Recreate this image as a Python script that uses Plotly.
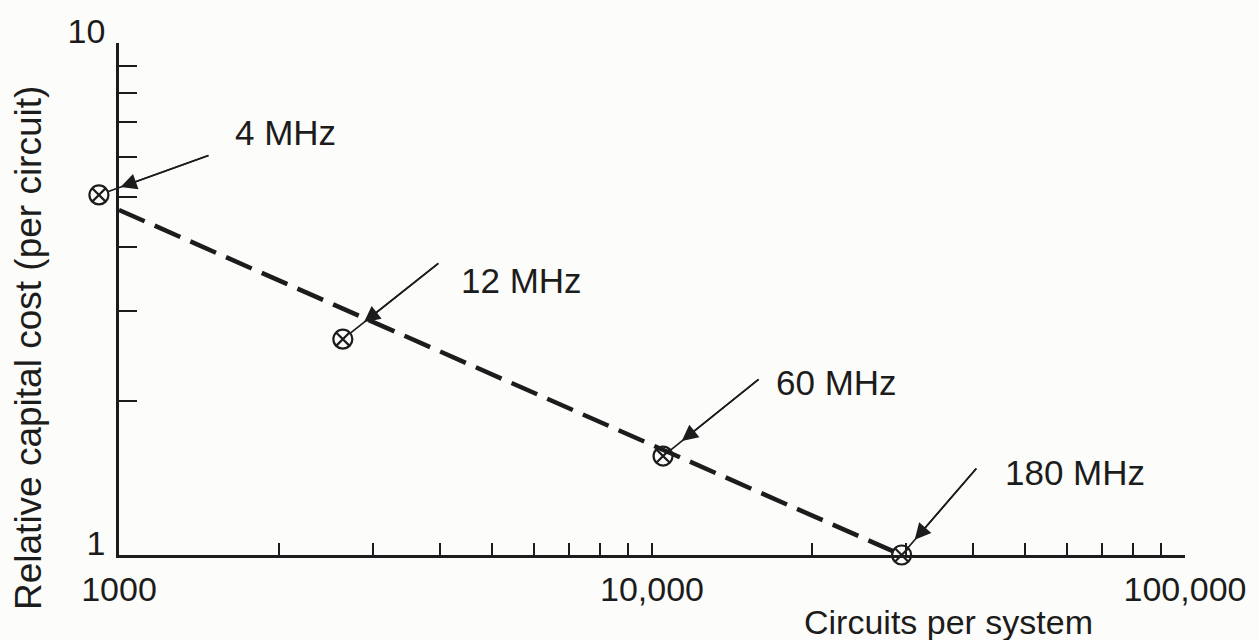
import numpy as np
import plotly.graph_objects as go

# ---- data ----
labels = ["4 MHz", "12 MHz", "60 MHz", "180 MHz"]
circuits = [917, 2630, 10490, 29400]          # circuits per system
rel_cost = [5.05, 2.64, 1.56, 1.0]            # relative capital cost per circuit

trend_x = [1000, 29400]                        # dashed trend line
trend_y = [4.72, 1.0]

x_tick_vals = [1000, 2000, 3000, 4000, 5000, 6000, 7000, 8000, 9000,
               10000, 20000, 30000, 40000, 50000, 60000, 70000, 80000, 90000, 100000]
x_tick_text = ["1000", "", "", "", "", "", "", "", "",
               "10,000", "", "", "", "", "", "", "", "", "100,000"]
y_tick_vals = [1, 2, 3, 4, 5, 6, 7, 8, 9, 10]
y_tick_text = ["1", "", "", "", "", "", "", "", "", "10"]

# ---- styling / layout (not data) ----
FONT = "Liberation Sans, Arial, sans-serif"
INK = "#1c1c1c"
BG = "#fcfcfa"
W, H = 1259, 640
ML, MR, MT, MB = 79, 74, 43, 85           # outer plot box (data axes)
AXIS_LEFT_PX = 119                          # where the drawn y axis sits
plot_w = W - ML - MR
decade_px = (W - MR - AXIS_LEFT_PX) / 2.0   # x axis spans two decades
x_lo = 3 - (AXIS_LEFT_PX - ML) / decade_px
ax_dom0 = (AXIS_LEFT_PX - ML) / plot_w

# per-label offsets (pixels) for label text and arrow tails
label_shift = [(134, 62), (116, 59), (111, 74), (101, 83)]
arrow_tail = [(111, -40), (97, -77), (97, -78), (76, -88)]
head_standoff = [23, 27, 24, 20]

fig = go.Figure()

fig.add_trace(go.Scatter(
    x=trend_x, y=trend_y, mode="lines",
    line=dict(color=INK, width=4.5, dash="28px,11px"),
    hoverinfo="skip", showlegend=False, cliponaxis=False))

fig.add_trace(go.Scatter(
    x=circuits, y=rel_cost, mode="markers",
    marker=dict(symbol="circle-x-open", size=19, color=INK,
                line=dict(width=2.2, color=INK)),
    showlegend=False, cliponaxis=False))

# empty trace so the drawn-axis subplot exists
fig.add_trace(go.Scatter(x=[], y=[], xaxis="x2", yaxis="y2",
                         showlegend=False, hoverinfo="skip"))

for i, lab in enumerate(labels):
    xl = float(np.log10(circuits[i]))
    yl = float(np.log10(rel_cost[i]))
    fig.add_annotation(x=xl, y=yl, xref="x", yref="y", text="",
                       showarrow=True, ax=arrow_tail[i][0], ay=arrow_tail[i][1],
                       arrowhead=2, arrowsize=1.9, arrowwidth=1.7,
                       arrowcolor=INK, standoff=head_standoff[i])
    fig.add_annotation(x=xl, y=yl, xref="x", yref="y", text="",
                       showarrow=True, ax=arrow_tail[i][0], ay=arrow_tail[i][1],
                       arrowhead=0, arrowwidth=1.7,
                       arrowcolor=INK, standoff=10)
    fig.add_annotation(x=xl, y=yl, xref="x", yref="y", text=lab,
                       showarrow=False, xanchor="left", yanchor="middle",
                       xshift=label_shift[i][0], yshift=label_shift[i][1],
                       font=dict(family=FONT, size=35, color=INK))

# axis titles
fig.add_annotation(x=(948 - ML) / plot_w, y=0, xref="paper", yref="paper",
                   text="Circuits per system", showarrow=False,
                   xanchor="center", yanchor="middle", yshift=-67,
                   font=dict(family=FONT, size=34, color=INK))
fig.add_annotation(x=(28 - ML) / plot_w, y=(H - MB - 348) / (H - MT - MB),
                   xref="paper", yref="paper",
                   text="Relative capital cost (per circuit)", showarrow=False,
                   textangle=-90, xanchor="center", yanchor="middle",
                   font=dict(family=FONT, size=37, color=INK))

# data axes (invisible, slightly wider x range so the 4 MHz point fits)
fig.update_layout(
    xaxis=dict(type="log", range=[x_lo, 5], domain=[0, 1], visible=False,
               fixedrange=True),
    yaxis=dict(type="log", range=[0, 1], domain=[0, 1], visible=False,
               fixedrange=True),
    xaxis2=dict(type="log", range=[3, 5], domain=[ax_dom0, 1], anchor="y2",
                showgrid=False, zeroline=False,
                showline=True, linecolor=INK, linewidth=2.5,
                ticks="inside", ticklen=12, tickwidth=2, tickcolor=INK,
                tickvals=x_tick_vals, ticktext=x_tick_text,
                ticklabelstandoff=2,
                tickfont=dict(family=FONT, size=34, color=INK)),
    yaxis2=dict(type="log", range=[0, 1], domain=[0, 1], anchor="x2",
                showgrid=False, zeroline=False,
                showline=True, linecolor=INK, linewidth=2.5,
                ticks="inside", ticklen=18, tickwidth=2, tickcolor=INK,
                tickvals=y_tick_vals, ticktext=y_tick_text,
                ticklabelshift=-12, ticklabelstandoff=4,
                tickfont=dict(family=FONT, size=34, color=INK)),
)

fig.update_layout(width=W, height=H,
                  margin=dict(l=ML, r=MR, t=MT, b=MB),
                  paper_bgcolor=BG, plot_bgcolor="rgba(0,0,0,0)",
                  showlegend=False)

fig.write_html("out.html")
